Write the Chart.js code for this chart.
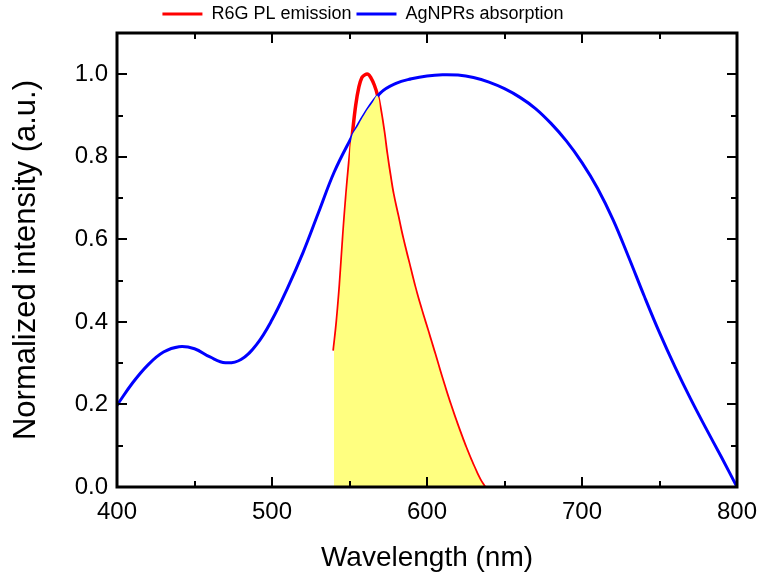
<!DOCTYPE html>
<html>
<head>
<meta charset="utf-8">
<script src="https://cdn.jsdelivr.net/npm/chart.js@4/dist/chart.umd.min.js"></script>
<style>
  html, body { margin: 0; padding: 0; background: #fff; }
  #wrap { width: 758px; height: 584px; }
</style>
</head>
<body>
<div id="wrap"><canvas id="spectra"></canvas></div>
<script>
"use strict";

// AgNPRs absorption (blue)
const absNm = [400, 410, 420, 430, 440, 450, 460, 470, 480, 490, 500, 510, 520, 530, 540, 550, 560, 570, 580, 590, 600, 610, 620, 630, 640, 650, 660, 670, 680, 690, 700, 710, 720, 730, 740, 750, 760, 770, 780, 790, 800];
const absVal = [0.198, 0.252, 0.296, 0.327, 0.340, 0.335, 0.315, 0.301, 0.309, 0.345, 0.405, 0.482, 0.568, 0.665, 0.762, 0.838, 0.905, 0.955, 0.978, 0.989, 0.996, 0.999, 0.998, 0.992, 0.981, 0.965, 0.944, 0.917, 0.881, 0.838, 0.786, 0.724, 0.648, 0.558, 0.464, 0.374, 0.291, 0.214, 0.142, 0.072, 0.000];

// R6G PL emission (red)
const plNm = [540, 542, 544, 546, 548, 550, 552, 554, 556, 558, 560, 562, 564, 566, 568, 570, 572, 574, 576, 578, 581, 584, 588, 592, 596, 600, 605, 610, 615, 620, 625, 630, 634, 637];
const plVal = [0.33, 0.40, 0.49, 0.60, 0.70, 0.785, 0.86, 0.925, 0.968, 0.992, 0.999, 1.000, 0.990, 0.974, 0.950, 0.910, 0.862, 0.805, 0.755, 0.710, 0.658, 0.606, 0.545, 0.485, 0.432, 0.383, 0.321, 0.258, 0.199, 0.145, 0.095, 0.050, 0.018, 0.000];

// top edge of the yellow overlap area
const overlapNm = [540, 542, 544, 546, 548, 550, 551.5, 555, 560, 565, 568, 570, 572, 574, 576, 578, 581, 584, 588, 592, 596, 600, 605, 610, 615, 620, 625, 630, 634, 637];
const overlapVal = [0.33, 0.40, 0.49, 0.60, 0.70, 0.785, 0.848, 0.872, 0.905, 0.932, 0.948, 0.910, 0.862, 0.805, 0.755, 0.710, 0.658, 0.606, 0.545, 0.485, 0.432, 0.383, 0.321, 0.258, 0.199, 0.145, 0.095, 0.050, 0.018, 0.000];

const xTicks = [400, 500, 600, 700, 800];
const xMinor = [450, 550, 650, 750];
const yTicks = [0, 0.2, 0.4, 0.6, 0.8, 1.0];
const yMinor = [0.1, 0.3, 0.5, 0.7, 0.9];

const pts = (xs, ys) => xs.map((x, i) => ({ x: x, y: ys[i] }));

// frame + inward ticks on all four sides
const frameTicks = {
  id: 'frameTicks',
  afterLayout(chart) {
    // legend sits a little left of centre in the original
    if (chart.legend) {
      chart.legend.left -= 16;
      chart.legend.right -= 16;
    }
  },
  afterDatasetsDraw(chart) {
    const { ctx, chartArea: a, scales: { x, y } } = chart;
    ctx.save();
    ctx.strokeStyle = '#000';
    ctx.lineWidth = 2;
    const xt = (v, len) => {
      const px = Math.round(x.getPixelForValue(v));
      ctx.beginPath();
      ctx.moveTo(px, a.bottom); ctx.lineTo(px, a.bottom - len);
      ctx.moveTo(px, a.top); ctx.lineTo(px, a.top + len);
      ctx.stroke();
    };
    const yt = (v, len) => {
      const py = Math.round(y.getPixelForValue(v));
      ctx.beginPath();
      ctx.moveTo(a.left, py); ctx.lineTo(a.left + len, py);
      ctx.moveTo(a.right, py); ctx.lineTo(a.right - len, py);
      ctx.stroke();
    };
    xTicks.forEach(v => xt(v, 10));
    xMinor.forEach(v => xt(v, 6));
    yTicks.forEach(v => yt(v, 10));
    yMinor.forEach(v => yt(v, 6));
    ctx.lineWidth = 3;
    ctx.strokeRect(a.left, a.top, a.right - a.left, a.bottom - a.top);
    ctx.restore();
  }
};

new Chart(document.getElementById('spectra'), {
  type: 'line',
  data: {
    datasets: [
      {
        label: 'R6G PL emission',
        data: pts(plNm, plVal),
        borderColor: '#ff0000',
        borderWidth: 3.5,
        pointRadius: 0,
        fill: false,
        tension: 0.4,
        order: 2,
      },
      {
        label: 'AgNPRs absorption',
        data: pts(absNm, absVal),
        borderColor: '#0000ff',
        borderWidth: 3,
        pointRadius: 0,
        fill: false,
        tension: 0.4,
        order: 1,
      },
      {
        label: 'overlap',
        data: pts(overlapNm, overlapVal),
        borderWidth: 0,
        borderColor: 'rgba(0,0,0,0)',
        backgroundColor: '#ffff80',
        pointRadius: 0,
        fill: 'origin',
        tension: 0.4,
        order: 0,
      },
    ],
  },
  options: {
    responsive: true,
    maintainAspectRatio: false,
    animation: false,
    layout: { padding: { top: 0, right: 0, bottom: 0, left: 0 } },
    plugins: {
      tooltip: { enabled: false },
      legend: {
        position: 'top',
        labels: {
          color: '#000',
          font: { family: 'Liberation Sans', size: 18 },
          boxWidth: 40,
          boxHeight: 3,
          padding: 5,
          filter: item => item.datasetIndex < 2,
          generateLabels(chart) {
            return chart.data.datasets.map((ds, i) => ({
              text: ds.label,
              fillStyle: ds.borderColor,
              strokeStyle: ds.borderColor,
              lineWidth: 0,
              datasetIndex: i,
              hidden: false,
            }));
          },
        },
      },
    },
    scales: {
      x: {
        type: 'linear',
        min: 400,
        max: 800,
        afterBuildTicks: s => { s.ticks = xTicks.map(v => ({ value: v })); },
        afterFit: s => { s.height = 97; s.paddingRight = 21; },
        grid: { display: false, drawTicks: false },
        border: { display: false },
        ticks: {
          color: '#000',
          font: { family: 'Liberation Sans', size: 24 },
          padding: 11,
          maxRotation: 0,
        },
        title: {
          display: true,
          text: 'Wavelength (nm)',
          color: '#000',
          font: { family: 'Liberation Sans', size: 28 },
          padding: { top: 0, bottom: 9 },
        },
      },
      y: {
        type: 'linear',
        min: 0,
        max: 1.1,
        afterBuildTicks: s => { s.ticks = yTicks.map(v => ({ value: v })); },
        afterFit: s => { s.width = 117; },
        grid: { display: false, drawTicks: false },
        border: { display: false },
        ticks: {
          color: '#000',
          font: { family: 'Liberation Sans', size: 24 },
          padding: 9,
          callback: v => Number(v).toFixed(1),
        },
        title: {
          display: true,
          text: 'Normalized intensity (a.u.)',
          color: '#000',
          font: { family: 'Liberation Sans', size: 31 },
          padding: { top: 8, bottom: 0 },
        },
      },
    },
  },
  plugins: [frameTicks],
});
</script>
</body>
</html>
